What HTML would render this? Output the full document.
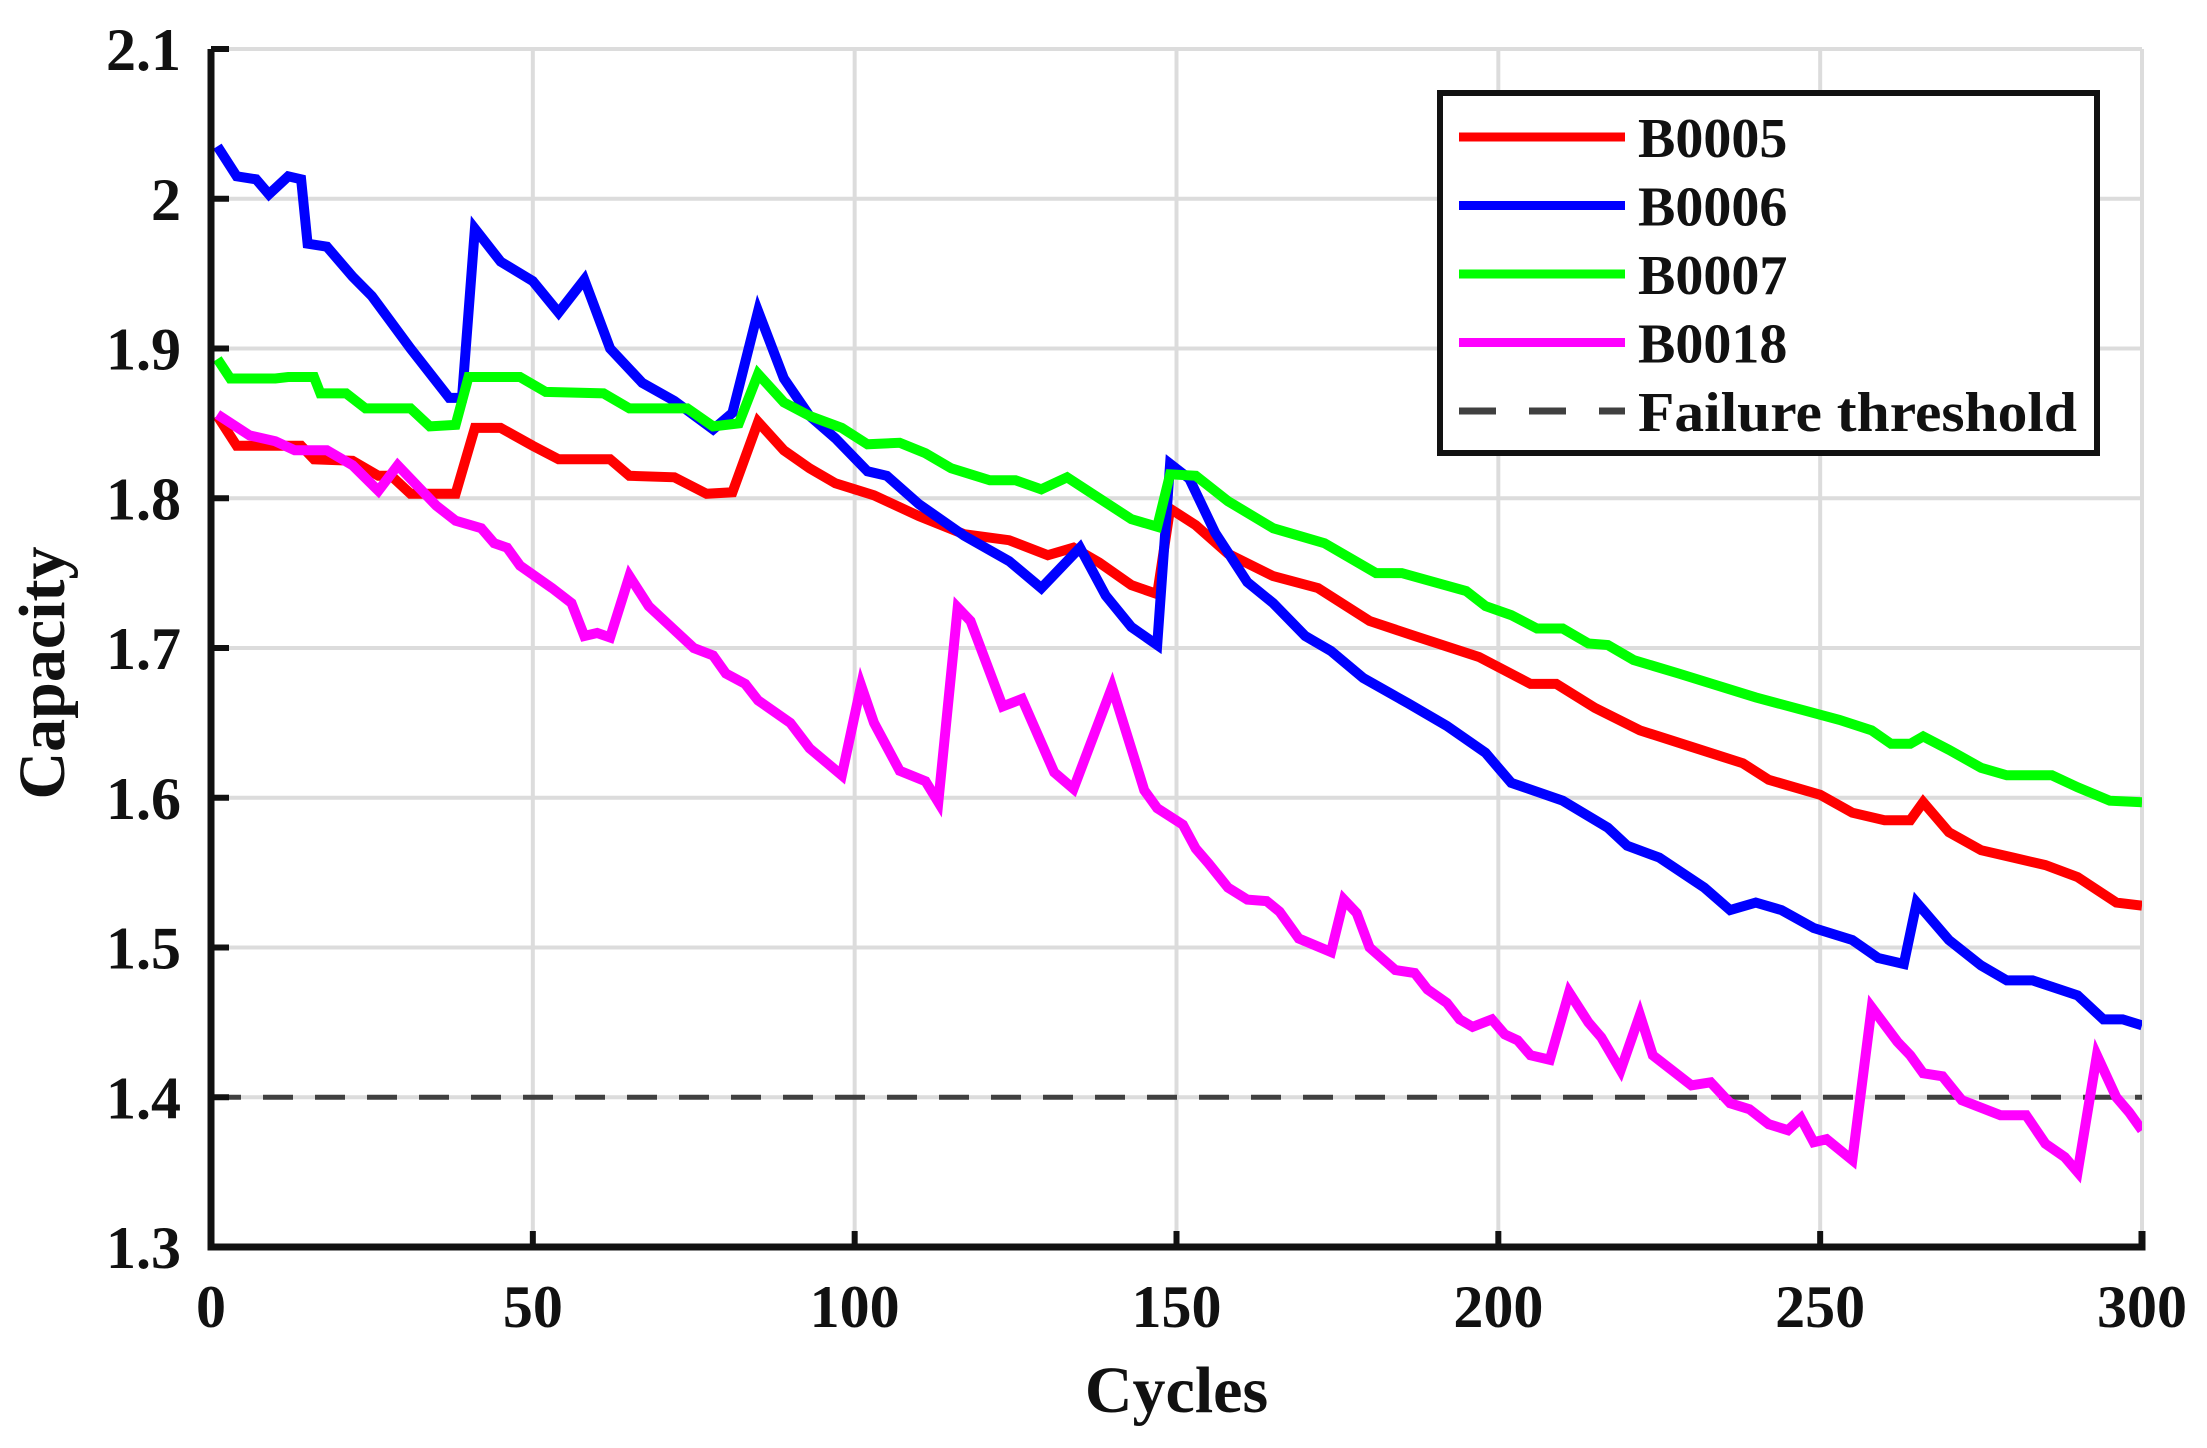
<!DOCTYPE html>
<html><head><meta charset="utf-8"><style>
html,body{margin:0;padding:0;background:#fff}
svg{display:block}
text{font-family:"Liberation Serif",serif;font-weight:bold;fill:#111}
</style></head><body>
<svg id="chart" width="2207" height="1448" viewBox="0 0 2207 1448" xmlns="http://www.w3.org/2000/svg">
<g id="grid"></g>
<g id="series"></g>
<g id="axes"></g>
<g id="legend"></g>
</svg>
<script>
const xTicks=[0,50,100,150,200,250,300];
const yTicks=[1.3,1.4,1.5,1.6,1.7,1.8,1.9,2.0,2.1];
const yTickLabels=["1.3","1.4","1.5","1.6","1.7","1.8","1.9","2","2.1"];
const threshold=1.4;
const seriesNames=["B0005","B0006","B0007","B0018"];
const seriesColors=["#ff0000","#0000ff","#00ff00","#ff00ff"];
const b0005Cycles=[1,4,10,14,16,22,26,28,31,38,41,45,50,54,62,65,72,77,81,85,89,93,97,103,110,117,124,130,134,138,143,147,149,153,158,165,172,180,187,197,205,209,215,222,230,238,242,250,255,260,264,266,270,275,280,285,290,296,300];
const b0005Cap=[1.855,1.835,1.835,1.835,1.826,1.825,1.815,1.815,1.803,1.803,1.847,1.847,1.835,1.826,1.826,1.815,1.814,1.803,1.804,1.851,1.832,1.820,1.810,1.802,1.788,1.776,1.772,1.762,1.767,1.757,1.742,1.736,1.793,1.782,1.763,1.748,1.740,1.718,1.708,1.694,1.676,1.676,1.660,1.645,1.634,1.623,1.612,1.602,1.590,1.585,1.585,1.597,1.577,1.565,1.560,1.555,1.547,1.530,1.528];
const b0006Cycles=[1,4,7,9,12,14,15,18,22,25,31,37,39,41,45,50,54,58,62,67,72,78,81,85,89,93,97,102,105,110,117,124,129,135,139,143,147,149,152,156,161,165,170,174,179,186,192,198,202,210,217,220,225,232,236,240,244,249,255,259,263,265,270,275,279,283,290,294,297,300];
const b0006Cap=[2.035,2.015,2.013,2.003,2.015,2.013,1.970,1.968,1.948,1.935,1.900,1.867,1.867,1.980,1.958,1.945,1.924,1.946,1.900,1.877,1.865,1.846,1.857,1.925,1.880,1.855,1.840,1.818,1.815,1.796,1.775,1.758,1.740,1.767,1.735,1.714,1.702,1.823,1.813,1.777,1.744,1.730,1.708,1.698,1.680,1.663,1.648,1.630,1.610,1.598,1.580,1.568,1.560,1.540,1.525,1.530,1.525,1.513,1.505,1.493,1.489,1.530,1.505,1.488,1.478,1.478,1.468,1.452,1.452,1.448];
const b0007Cycles=[1,3,10,12,16,17,21,24,31,34,38,40,48,52,61,65,74,78,82,85,89,93,98,102,107,111,115,121,125,129,133,138,143,147,149,153,158,165,173,181,185,195,198,202,206,210,214,217,221,228,240,253,258,261,264,266,270,275,279,286,290,295,300];
const b0007Cap=[1.893,1.880,1.880,1.881,1.881,1.870,1.870,1.860,1.860,1.848,1.849,1.881,1.881,1.871,1.870,1.860,1.860,1.848,1.850,1.883,1.864,1.855,1.847,1.836,1.837,1.830,1.820,1.812,1.812,1.806,1.814,1.800,1.786,1.781,1.816,1.815,1.798,1.780,1.770,1.750,1.750,1.738,1.728,1.722,1.713,1.713,1.703,1.702,1.692,1.683,1.667,1.652,1.645,1.636,1.636,1.641,1.632,1.620,1.615,1.615,1.607,1.598,1.597];
const b0018Cycles=[1,6,10,13,18,22,26,29,35,38,42,44,46,48,53,56,58,60,62,65,68,72,75,78,80,83,85,90,93,98,101,103,107,111,113,116,118,123,126,131,134,140,145,147,151,153,155,158,161,164,166,169,174,176,178,180,184,187,189,192,194,196,199,201,203,205,208,211,214,216,219,222,224,227,230,233,236,239,242,245,247,249,251,255,258,262,264,266,269,272,278,282,285,288,290,293,296,298,300];
const b0018Cap=[1.856,1.842,1.838,1.832,1.832,1.822,1.805,1.822,1.795,1.785,1.780,1.770,1.767,1.755,1.740,1.730,1.708,1.710,1.707,1.748,1.728,1.712,1.700,1.695,1.683,1.676,1.665,1.650,1.633,1.615,1.675,1.650,1.618,1.611,1.597,1.727,1.718,1.661,1.666,1.617,1.606,1.674,1.605,1.593,1.582,1.566,1.556,1.540,1.532,1.531,1.524,1.506,1.497,1.532,1.523,1.500,1.485,1.483,1.472,1.463,1.452,1.447,1.452,1.442,1.438,1.428,1.425,1.470,1.450,1.440,1.418,1.455,1.428,1.418,1.408,1.410,1.396,1.392,1.382,1.378,1.386,1.370,1.372,1.358,1.460,1.437,1.428,1.416,1.414,1.398,1.388,1.388,1.369,1.360,1.350,1.428,1.400,1.390,1.378];

const NS="http://www.w3.org/2000/svg";
const L=211,R=2142,T=49,B=1247;
const xScale=v=>L+(v-0)/(300-0)*(R-L);
const yScale=v=>B-(v-1.3)/(2.1-1.3)*(B-T);
function mk(tag,attrs,parent){const e=document.createElementNS(NS,tag);for(const k in attrs)e.setAttribute(k,attrs[k]);parent.appendChild(e);return e;}
const grid=document.getElementById('grid'),axes=document.getElementById('axes'),ser=document.getElementById('series'),leg=document.getElementById('legend');

xTicks.forEach(v=>{const x=xScale(v);
 const g=mk('line',{x1:x,x2:x,y1:T,y2:B,stroke:'#dcdcdc','stroke-width':4},grid);
 
 const tk=mk('line',{x1:x,x2:x,y1:B,y2:B-16,stroke:'#111','stroke-width':6},axes);
 
 const t=mk('text',{x:x,y:B+80,'font-size':60,'text-anchor':'middle'},axes);t.textContent=String(v);
 
});
yTicks.forEach((v,i)=>{const y=yScale(v);
 const g=mk('line',{x1:L,x2:R,y1:y,y2:y,stroke:'#dcdcdc','stroke-width':4},grid);
 
 const tk=mk('line',{x1:L,x2:L+18,y1:y,y2:y,stroke:'#111','stroke-width':6},axes);
 
 const t=mk('text',{x:L-30,y:y+21,'font-size':60,'text-anchor':'end'},axes);t.textContent=yTickLabels[i];
 
});
const th=mk('line',{x1:L,x2:R,y1:yScale(threshold),y2:yScale(threshold),stroke:'#404040','stroke-width':5,'stroke-dasharray':'30 22'},ser);


const allC=[b0005Cycles,b0006Cycles,b0007Cycles,b0018Cycles],allV=[b0005Cap,b0006Cap,b0007Cap,b0018Cap];
const clip=mk('clipPath',{id:'pc'},document.getElementById('chart'));mk('rect',{x:L,y:T,width:R-L,height:B-T},clip);
allC.forEach((cs,s)=>{const pts=cs.map((c,i)=>xScale(c).toFixed(1)+','+yScale(allV[s][i]).toFixed(1)).join(' ');
 const p=mk('polyline',{points:pts,fill:'none',stroke:seriesColors[s],'stroke-width':10,'stroke-linejoin':'miter','clip-path':'url(#pc)'},ser);
 
});

const ax=mk('path',{d:`M${L},${T} L${L},${B} L${R},${B} L${R},${B-16}`,fill:'none',stroke:'#111','stroke-width':7},axes);

const xt=mk('text',{x:(L+R)/2,y:1412,'font-size':66,'text-anchor':'middle'},axes);xt.textContent='Cycles';

const yt=mk('text',{x:0,y:0,'font-size':66,'text-anchor':'middle',transform:`translate(64,${(T+B)/2+25}) rotate(-90)`},axes);yt.textContent='Capacity';


const box=mk('rect',{x:1440,y:93,width:657,height:360,fill:'#fff',stroke:'#111','stroke-width':6},leg);

const names=seriesNames.concat(['Failure threshold']);
names.forEach((n,i)=>{const y=137+i*68.5;
 const ln=mk('line',{x1:1459,x2:1625,y1:y,y2:y,stroke:i<4?seriesColors[i]:'#404040','stroke-width':i<4?9:7},leg);
 if(i==4)ln.setAttribute('stroke-dasharray','37 33');
 
 const t=mk('text',{x:1638,y:y+20,'font-size':56},leg);t.textContent=n;
 if(i==4){t.setAttribute('textLength','439');t.setAttribute('lengthAdjust','spacingAndGlyphs');}
 
});
</script>
</body></html>
